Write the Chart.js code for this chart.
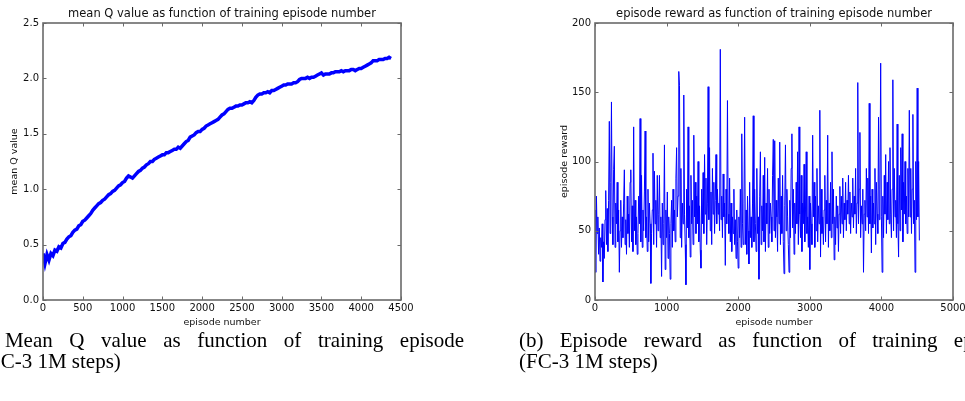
<!DOCTYPE html>
<html>
<head>
<meta charset="utf-8">
<script src="https://cdn.jsdelivr.net/npm/chart.js@4.4.1/dist/chart.umd.min.js"></script>
<style>
  html, body { margin: 0; padding: 0; background: #fff; }
  body { width: 965px; height: 401px; overflow: hidden; position: relative; }
  canvas { position: absolute; top: 0; }
  #cq { left: 0; }
  #cr { left: 480px; }
  .cap { position: absolute; font-family: 'Liberation Serif', 'Times New Roman', serif; font-size: 21px; line-height: 21px; color: #000; white-space: nowrap; }
  .l1 { width: 499px; text-align: justify; text-align-last: justify; white-space: normal; }
</style>
</head>
<body>
<canvas id="cq" width="480" height="330"></canvas>
<canvas id="cr" width="485" height="330"></canvas>
<div class="cap l1" style="left:-35px; top:330px;">(a) Mean Q value as function of training episode</div>
<div class="cap" style="left:-18px; top:351px;">(FC-3 1M steps)</div>
<div class="cap l1" style="left:519px; top:330px;">(b) Episode reward as function of training episode</div>
<div class="cap" style="left:519px; top:351px;">(FC-3 1M steps)</div>
<script>
// ---------------- data ----------------
const qTitle = 'mean Q value as function of training episode number';
const rTitle = 'episode reward as function of training episode number';
const xLabel = 'episode number';
const qYLabel = 'mean Q value';
const rYLabel = 'episode reward';

// mean Q value, one reading every 25 episodes (0 .. 4375)
const Q_STEP = 25;
const meanQ = [
  0.42,0.33,0.41,0.36, 0.42,0.40,0.45,0.44, 0.48,0.47,0.51,0.52, 0.55,0.57,0.58,0.61,
  0.63,0.64,0.67,0.68, 0.71,0.72,0.74,0.76, 0.78,0.81,0.83,0.85, 0.87,0.88,0.90,0.91,
  0.93,0.95,0.96,0.98, 0.99,1.01,1.03,1.04, 1.06,1.07,1.10,1.12, 1.11,1.10,1.12,1.14,
  1.16,1.17,1.19,1.20, 1.22,1.23,1.25,1.25, 1.27,1.28,1.29,1.30, 1.31,1.31,1.33,1.33,
  1.34,1.35,1.36,1.36, 1.38,1.37,1.39,1.41, 1.43,1.44,1.47,1.48, 1.49,1.51,1.52,1.52,
  1.54,1.55,1.57,1.58, 1.59,1.60,1.61,1.62, 1.63,1.65,1.67,1.68, 1.70,1.72,1.73,1.73,
  1.74,1.75,1.75,1.76, 1.76,1.77,1.78,1.78, 1.79,1.78,1.80,1.83, 1.85,1.86,1.86,1.87,
  1.87,1.88,1.87,1.89, 1.89,1.90,1.91,1.92, 1.93,1.94,1.94,1.95, 1.95,1.95,1.96,1.96,
  1.97,1.99,2.00,2.00, 2.00,2.01,2.00,2.01, 2.01,2.02,2.03,2.04, 2.05,2.03,2.04,2.04,
  2.04,2.05,2.05,2.06, 2.06,2.06,2.07,2.06, 2.07,2.07,2.07,2.08, 2.08,2.07,2.08,2.09,
  2.09,2.10,2.11,2.12, 2.13,2.14,2.16,2.16, 2.16,2.17,2.17,2.17, 2.18,2.18,2.19,2.18
];

// episode reward, one reading every 10 episodes (0 .. 4530)
const R_STEP = 10;
const reward = [
  65,20,75,48,60,33,52,28,45,38,   55,13,42,30,58,79,40,66,35,72,
  129,48,85,143,60,40,94,111,38,70, 55,85,42,65,20,50,72,38,60,45,
  70,94,40,58,33,75,48,62,38,85,   94,42,68,35,125,50,72,40,60,33,
  48,75,55,131,42,90,38,65,50,78,  122,45,60,35,80,42,70,55,12,48,
  65,106,40,93,55,72,38,90,50,62,  90,45,60,17,70,40,55,112,22,65,
  45,78,30,60,48,15,55,72,38,80,   50,65,42,88,110,60,75,165,155,45,
  95,38,70,55,148,62,40,11,80,52,  125,45,68,31,90,55,72,40,119,60,
  85,48,75,55,100,42,68,36,23,80,  55,92,48,105,62,88,40,70,154,58,
  110,50,78,40,95,62,85,48,72,105, 55,80,62,70,50,181,58,75,45,91,
  60,70,25,80,55,144,62,48,88,42,  70,35,60,48,80,40,58,30,65,42,
  23,60,45,80,38,120,55,40,70,132, 40,65,33,75,50,26,85,45,60,38,
  70,133,42,80,55,35,95,48,60,15,  75,107,40,68,50,90,42,103,35,70,
  55,95,38,80,48,70,60,42,90,116,  50,115,45,72,60,35,88,55,114,40,
  75,48,90,42,19,68,112,50,80,60,  40,20,72,45,95,120,52,80,33,70,
  48,85,55,107,40,125,62,45,90,35, 70,55,98,42,65,107,48,60,38,75,
  22,70,55,40,119,60,85,38,75,50,  95,42,68,55,137,31,80,48,60,40,
  65,90,42,72,55,119,38,70,50,85,  45,107,55,80,29,60,40,75,52,68,
  35,62,82,48,75,55,88,45,70,58,   85,50,72,62,90,55,78,48,70,60,
  88,52,75,62,95,48,70,157,55,80,  121,45,68,55,80,20,62,72,50,95,
  60,88,48,142,55,75,34,80,52,70,  55,95,40,85,62,48,132,58,80,171,
  60,20,75,45,90,62,105,48,85,58,  100,55,110,62,45,80,159,50,95,60,
  72,45,127,55,31,90,50,110,65,120, 42,85,62,100,55,75,48,95,60,137,
  60,95,48,80,134,55,72,20,100,58, 153,60,100,43
];

const qXTicks = { min: 0, max: 4500, step: 500 };
const qYTicks = { min: 0, max: 2.5, step: 0.5 };
const rXTicks = { min: 0, max: 5000, step: 1000 };
const rYTicks = { min: 0, max: 200, step: 50 };

// ---------------- styling helpers ----------------
const FONT = "'DejaVu Sans', sans-serif";
const TXT = '#111';
const SPINE = '#6a6a6a';

const framePlugin = {
  id: 'frameTicks',
  afterDraw(chart) {
    const { ctx, chartArea: a, scales } = chart;
    ctx.save();
    ctx.strokeStyle = SPINE;
    ctx.lineWidth = 1;
    const L = 3.5;
    scales.x.ticks.forEach(t => {
      const px = Math.round(scales.x.getPixelForValue(t.value)) + 0.5;
      ctx.beginPath();
      ctx.moveTo(px, a.bottom); ctx.lineTo(px, a.bottom - L);
      ctx.moveTo(px, a.top); ctx.lineTo(px, a.top + L);
      ctx.stroke();
    });
    scales.y.ticks.forEach(t => {
      const py = Math.round(scales.y.getPixelForValue(t.value)) + 0.5;
      ctx.beginPath();
      ctx.moveTo(a.left, py); ctx.lineTo(a.left + L, py);
      ctx.moveTo(a.right, py); ctx.lineTo(a.right - L, py);
      ctx.stroke();
    });
    ctx.lineWidth = 1.6;
    ctx.strokeRect(a.left, a.top, a.right - a.left, a.bottom - a.top);
    ctx.restore();
  }
};

function makeChart(id, title, yLabel, points, lineWidth, xT, yT, yFmt, pad, yWidth) {
  return new Chart(document.getElementById(id), {
    type: 'line',
    data: {
      datasets: [{
        data: points,
        borderColor: '#0000ff',
        borderWidth: lineWidth,
        pointRadius: 0,
        tension: 0,
        fill: false
      }]
    },
    options: {
      responsive: false,
      animation: false,
      devicePixelRatio: 1,
      layout: { padding: pad },
      plugins: {
        legend: { display: false },
        tooltip: { enabled: false },
        title: {
          display: true,
          text: title,
          fullSize: false,
          color: TXT,
          font: { family: FONT, size: 11.5, weight: 'normal', lineHeight: 1.2 },
          padding: { top: 7.5, bottom: 1.7 }
        }
      },
      scales: {
        x: {
          type: 'linear',
          min: xT.min, max: xT.max,
          grid: { display: false, drawTicks: false },
          border: { display: false },
          ticks: { stepSize: xT.step, color: TXT, padding: 2, maxRotation: 0,
                   font: { family: FONT, size: 10 }, callback: v => String(v) },
          title: { display: true, text: xLabel, color: TXT,
                   font: { family: FONT, size: 9.5 }, padding: { top: 0, bottom: 2 } },
          afterFit: s => { s.height = 30; s.paddingLeft = 0; s.paddingRight = 0; }
        },
        y: {
          type: 'linear',
          min: yT.min, max: yT.max,
          grid: { display: false, drawTicks: false },
          border: { display: false },
          ticks: { stepSize: yT.step, color: TXT, padding: 4,
                   font: { family: FONT, size: 10 }, callback: yFmt },
          title: { display: true, text: yLabel, color: TXT,
                   font: { family: FONT, size: 9.5 }, padding: { top: 9, bottom: 0 } },
          afterFit: s => { s.width = yWidth; }
        }
      }
    },
    plugins: [framePlugin]
  });
}

const qPoints = meanQ.map((v, i) => ({ x: i * Q_STEP, y: v }));
const rPoints = reward.map((v, i) => ({ x: i * R_STEP, y: v }));

makeChart('cq', qTitle, qYLabel, qPoints, 3.5, qXTicks, qYTicks, v => v.toFixed(1),
  { left: 0, right: 79, top: 0, bottom: 0 }, 43);
makeChart('cr', rTitle, rYLabel, rPoints, 1, rXTicks, rYTicks, v => String(v),
  { left: 70, right: 12, top: 0, bottom: 0 }, 45);
</script>
</body>
</html>
